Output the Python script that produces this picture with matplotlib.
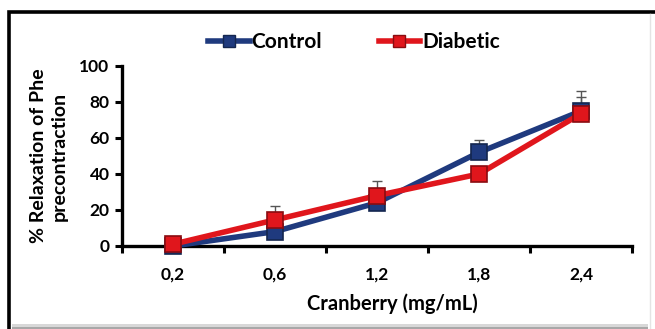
import numpy as np
import matplotlib.pyplot as plt
from matplotlib.patches import Rectangle
from matplotlib.lines import Line2D

# cranberry doses and mean relaxation (%) with upper SEM
doses = ['0,2', '0,6', '1,2', '1,8', '2,4']
control = [0, 8, 24, 52, 75]
control_err = [0, 2, 4, 7, 11]
diabetic = [1, 14.5, 28, 40, 73.5]
diabetic_err = [0, 7.5, 8, 3, 9.5]

blue = '#1f3a7e'
red = '#e0161c'

plt.rcParams['font.family'] = ['Lato', 'DejaVu Sans']

fig = plt.figure(figsize=(6.55, 3.29), dpi=100)

# outer frame of the chart box
fig.patches.append(Rectangle((9 / 655, -0.05), 1.2, 1 - 11.5 / 329 + 0.05,
                             transform=fig.transFigure, fill=False,
                             edgecolor='black', linewidth=2.6, zorder=0))
fig.patches.append(Rectangle((12 / 655, 0), 0.99 - 12 / 655, 5 / 329,
                             transform=fig.transFigure, facecolor='#d8d8d8',
                             edgecolor='none', zorder=0))
fig.patches.append(Rectangle((12 / 655, 0), 0.99 - 12 / 655, 2 / 329,
                             transform=fig.transFigure, facecolor='#a8a8a8',
                             edgecolor='none', zorder=0))
fig.add_artist(Line2D([650 / 655, 650 / 655], [0, 1 - 14 / 329],
                      transform=fig.transFigure, color='#e4e4e4', linewidth=1))

ax = fig.add_axes([122 / 655, 1 - 246 / 329, 510 / 655, 180 / 329])
x = np.arange(len(doses))

for vals, errs, col, edge, z in [(control, control_err, blue, '#14264f', 3),
                                 (diabetic, diabetic_err, red, '#8a0c10', 4)]:
    ax.errorbar(x, vals, yerr=[np.zeros(len(errs)), errs], fmt='none',
                ecolor='#555555', elinewidth=1.0, capsize=3.5, capthick=1.0,
                zorder=2)
    ax.plot(x, vals, color=col, linewidth=4, marker='s', markersize=12,
            markerfacecolor=col, markeredgecolor=edge, markeredgewidth=1.2,
            zorder=z, clip_on=False)

ax.set_xlim(-0.5, 4.5)
ax.set_ylim(0, 100)
ax.set_yticks([0, 20, 40, 60, 80, 100])
ax.set_xticks(x)
ax.set_xticklabels(doses)
ax.set_xticks(np.arange(-0.5, 5, 1), minor=True)
ax.tick_params(axis='x', which='major', length=0, pad=15)
ax.tick_params(axis='x', which='minor', length=5, width=2.2, direction='out')
ax.tick_params(axis='y', length=5, width=2.2, direction='out', pad=4)
for lab in ax.get_xticklabels() + ax.get_yticklabels():
    lab.set_fontsize(12.5)
    lab.set_fontweight('bold')

for side in ['top', 'right']:
    ax.spines[side].set_visible(False)
for side in ['left', 'bottom']:
    ax.spines[side].set_linewidth(2.4)

ax.set_ylabel('% Relaxation of Phe\nprecontraction', fontsize=14,
              fontweight='bold', linespacing=1.25)
ax.yaxis.set_label_coords(-54 / 510, 0.5)
fig.text(392 / 655, 1 - 304 / 329, 'Cranberry (mg/mL)', fontsize=14.5,
         fontweight='bold', ha='center', va='center')

handles = [Line2D([], [], color=blue, linewidth=4, marker='s', markersize=9,
                  markeredgecolor='#14264f'),
           Line2D([], [], color=red, linewidth=4, marker='s', markersize=9,
                  markeredgecolor='#8a0c10')]
fig.legend(handles, ['Control', 'Diabetic'], loc='center',
           bbox_to_anchor=(354 / 655, 1 - 42 / 329), ncol=2, frameon=False,
           handlelength=2.0, handletextpad=0.1, columnspacing=2.7,
           prop={'size': 15, 'weight': 'bold'})

fig.savefig('out.png', dpi=100)
